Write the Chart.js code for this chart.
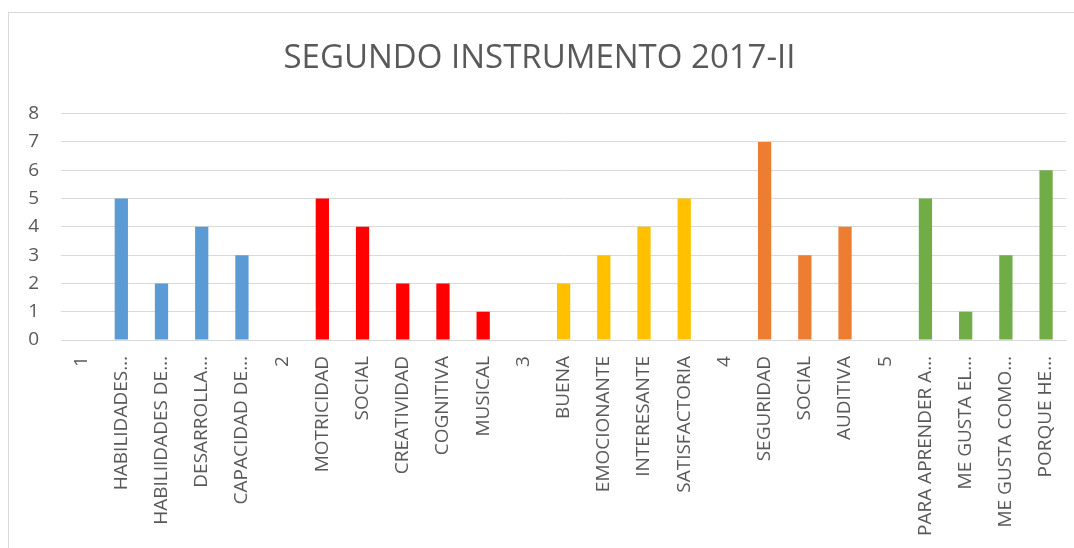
<!DOCTYPE html>
<html>
<head>
<meta charset="utf-8">
<script src="https://cdn.jsdelivr.net/npm/chart.js@4/dist/chart.umd.min.js"></script>
<style>
    body { margin: 0; background: #fff; }
    #wrap {
        position: absolute; left: 8px; top: 12px;
        width: 1070px; height: 540px;
        border: 1px solid #d9d9d9; box-sizing: border-box;
    }
</style>
</head>
<body>
<div id="wrap"><canvas id="chart"></canvas></div>
<script>
const categories = [
    '1', 'HABILIDADES…', 'HABILIIDADES DE…', 'DESARROLLA…', 'CAPACIDAD DE…',
    '2', 'MOTRICIDAD', 'SOCIAL', 'CREATIVIDAD', 'COGNITIVA', 'MUSICAL',
    '3', 'BUENA', 'EMOCIONANTE', 'INTERESANTE', 'SATISFACTORIA',
    '4', 'SEGURIDAD', 'SOCIAL', 'AUDITIVA',
    '5', 'PARA APRENDER A…', 'ME GUSTA EL…', 'ME GUSTA COMO…', 'PORQUE HE…'
];
const values = [
    null, 5, 2, 4, 3,
    null, 5, 4, 2, 2, 1,
    null, 2, 3, 4, 5,
    null, 7, 3, 4,
    null, 5, 1, 3, 6
];
// group of each category -> bar colour
const groups = [
    0, 0, 0, 0, 0,
    1, 1, 1, 1, 1, 1,
    2, 2, 2, 2, 2,
    3, 3, 3, 3,
    4, 4, 4, 4, 4
];
const groupColors = ['#5B9BD5', '#FF0000', '#FFC000', '#ED7D31', '#70AD47'];
const yTicks = [0, 1, 2, 3, 4, 5, 6, 7, 8];

const ctx = document.getElementById('chart').getContext('2d');
new Chart(ctx, {
    type: 'bar',
    data: {
        labels: categories,
        datasets: [{
            data: values,
            backgroundColor: groups.map(g => groupColors[g]),
            categoryPercentage: 1,
            barPercentage: 0.33
        }]
    },
    options: {
        responsive: true,
        maintainAspectRatio: false,
        animation: false,
        layout: { padding: { left: 0, right: 7, top: 14, bottom: 7 } },
        plugins: {
            legend: { display: false },
            tooltip: { enabled: false },
            title: {
                display: true,
                text: 'SEGUNDO INSTRUMENTO 2017-II',
                color: '#595959',
                font: { family: 'Open Sans', size: 33, weight: 'normal' },
                padding: { top: 12, bottom: 35 }
            }
        },
        scales: {
            y: {
                min: 0,
                max: 8,
                afterBuildTicks: axis => { axis.ticks = yTicks.map(v => ({ value: v })); },
                afterFit: axis => { axis.width = 52; },
                ticks: {
                    color: '#595959',
                    font: { family: 'Open Sans', size: 19 },
                    padding: 22
                },
                grid: { color: '#d9d9d9', lineWidth: 1, drawTicks: false },
                border: { display: false }
            },
            x: {
                ticks: {
                    color: '#595959',
                    font: { family: 'Open Sans', size: 19 },
                    minRotation: 90,
                    maxRotation: 90,
                    autoSkip: false,
                    padding: 8
                },
                grid: { display: false },
                border: { color: '#d9d9d9' }
            }
        }
    }
});
</script>
</body>
</html>
